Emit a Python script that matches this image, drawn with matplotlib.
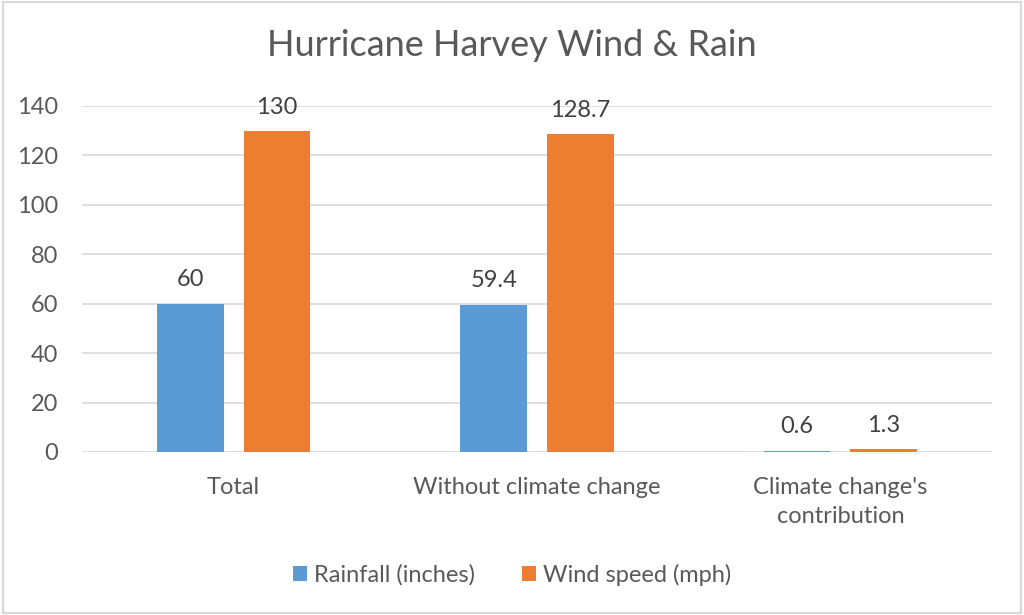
import matplotlib
matplotlib.use('Agg')
import matplotlib.pyplot as plt
import numpy as np
from matplotlib.patches import Rectangle

categories = ["Total", "Without climate change", "Climate change's\ncontribution"]
rainfall = [60, 59.4, 0.6]
wind = [130, 128.7, 1.3]
rain_labels = ["60", "59.4", "0.6"]
wind_labels = ["130", "128.7", "1.3"]
yticks = [0, 20, 40, 60, 80, 100, 120, 140]

plt.rcParams['font.family'] = ['Lato', 'DejaVu Sans']

BLUE = '#5B9BD5'
ORANGE = '#ED7D31'
TEXT = '#595959'

fig = plt.figure(figsize=(10.24, 6.15), dpi=100)
ax = fig.add_axes([82 / 1024, 1 - 452 / 615, 910 / 1024, (452 - 106) / 615])

x = np.arange(len(categories))
w = 0.22
off = 0.143
b1 = ax.bar(x - off, rainfall, w, color=BLUE, label='Rainfall (inches)', zorder=3)
b2 = ax.bar(x + off, wind, w, color=ORANGE, label='Wind speed (mph)', zorder=3)

for rect, lab in zip(b1, rain_labels):
    ax.annotate(lab, (rect.get_x() + rect.get_width() / 2, rect.get_height()),
                xytext=(0, 10), textcoords='offset points', ha='center', va='bottom',
                fontsize=17, color='#404040')
for rect, lab in zip(b2, wind_labels):
    ax.annotate(lab, (rect.get_x() + rect.get_width() / 2, rect.get_height()),
                xytext=(0, 9), textcoords='offset points', ha='center', va='bottom',
                fontsize=17, color='#404040')

ax.set_xlim(-0.5, 2.5)
ax.set_ylim(0, 140)
ax.set_yticks(yticks)
ax.set_yticklabels([str(t) for t in yticks], fontsize=17, color=TEXT)
ax.set_xticks(x)
ax.set_xticklabels(categories, fontsize=17, color=TEXT, linespacing=1.45)
ax.tick_params(axis='both', length=0)
ax.tick_params(axis='y', pad=17)
ax.tick_params(axis='x', pad=18)
ax.grid(axis='y', color='#D9D9D9', linewidth=1.2, zorder=0)
for s in ax.spines.values():
    s.set_visible(False)

fig.text(0.5, 1 - 45 / 615, 'Hurricane Harvey Wind & Rain', ha='center', va='center',
         fontsize=26, color=TEXT)

fig.legend(handles=[b1, b2], loc='center', bbox_to_anchor=(0.5, 1 - 575 / 615),
           ncol=2, frameon=False, fontsize=17, handlelength=0.6, handleheight=0.6,
           handletextpad=0.3, columnspacing=2.0, labelcolor=TEXT)

fig.patches.append(Rectangle((0.003, 0.004), 0.994, 0.992, transform=fig.transFigure,
                             fill=False, edgecolor='#D9D9D9', linewidth=1.5))

fig.savefig('out.png', dpi=100, facecolor='white')
